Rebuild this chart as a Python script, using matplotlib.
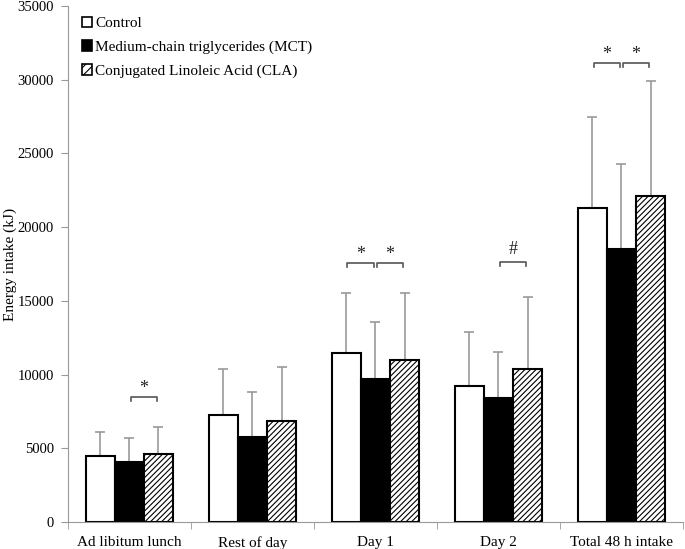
import numpy as np
import matplotlib
matplotlib.use('Agg')
import matplotlib.pyplot as plt
from matplotlib.patches import Patch

plt.rcParams['font.family'] = ['Liberation Serif', 'DejaVu Serif']
plt.rcParams['hatch.linewidth'] = 0.8

categories = ['Ad libitum lunch', 'Rest of day', 'Day 1', 'Day 2', 'Total 48 h intake']
series = ['Control', 'Medium-chain triglycerides (MCT)', 'Conjugated Linoleic Acid (CLA)']

control = [4450, 7250, 11500, 9250, 21300]
mct = [4050, 5780, 9680, 8450, 18520]
cla = [4600, 6850, 11000, 10400, 22150]

control_err = [1650, 3100, 4050, 3650, 6200]
mct_err = [1650, 3050, 3900, 3070, 5800]
cla_err = [1870, 3650, 4550, 4900, 7750]

# (category, left bar, right bar, bracket height, label)
brackets = [
    (0, 1, 2, 8500, '*'),
    (2, 0, 1, 17590, '*'),
    (2, 1, 2, 17590, '*'),
    (3, 1, 2, 17640, '#'),
    (4, 0, 1, 31120, '*'),
    (4, 1, 2, 31120, '*'),
]

fig = plt.figure(figsize=(6.85, 5.49), dpi=100)
ax = fig.add_axes([0.099, 0.049, 0.898, 0.940])

x = np.arange(len(categories))
w = 0.237
grey = '#999999'

ax.bar(x - w, control, w, color='white', edgecolor='black', linewidth=1.5, zorder=2)
ax.bar(x, mct, w, color='black', edgecolor='black', linewidth=1.5, zorder=2)
ax.bar(x + w, cla, w, color='white', edgecolor='black', linewidth=1.5, hatch='//////', zorder=2)

for off, vals, errs in [(-w, control, control_err), (0, mct, mct_err), (w, cla, cla_err)]:
    ax.errorbar(x + off, vals, yerr=[np.zeros(len(errs)), errs], fmt='none',
                ecolor=grey, elinewidth=1.2, capsize=3.5, capthick=1.2, zorder=1)

for cat, a, b, h, lab in brackets:
    xa = x[cat] + (a - 1) * w + 0.01
    xb = x[cat] + (b - 1) * w - 0.01
    ax.plot([xa, xa, xb, xb], [h - 280, h, h, h - 280], color='#555555', lw=1.2)
    gap = 270 if lab == '*' else 550
    ax.text((xa + xb) / 2, h + gap, lab, ha='center', va='baseline', fontsize=13, color='#222222')

ax.set_xlim(-0.5, len(categories) - 0.5)
ax.set_ylim(0, 35000)
ax.set_yticks(np.arange(0, 35001, 5000))
ax.set_xticks(x)
ax.set_xticklabels(categories, fontsize=11)
ax.set_xticks(np.arange(-0.5, len(categories)), minor=True)
ax.tick_params(axis='x', which='major', length=0, pad=10)
ax.tick_params(axis='x', which='minor', length=5, color=grey)
ax.tick_params(axis='y', labelsize=10.5, length=5, color=grey, pad=5)
ax.set_ylabel('Energy intake (kJ)', fontsize=11)
ax.yaxis.set_label_coords(-0.082, 0.5)

for s in ['top', 'right']:
    ax.spines[s].set_visible(False)
for s in ['left', 'bottom']:
    ax.spines[s].set_color(grey)

handles = [
    Patch(facecolor='white', edgecolor='black', linewidth=1.2),
    Patch(facecolor='black', edgecolor='black', linewidth=1.2),
    Patch(facecolor='white', edgecolor='black', linewidth=1.2, hatch='////'),
]
ax.legend(handles, series, loc='upper left', bbox_to_anchor=(0.005, 1.0), frameon=False,
          fontsize=11, handlelength=0.7, handleheight=0.7, handletextpad=0.2,
          labelspacing=0.65, borderaxespad=0.3)

fig.savefig('out.png', dpi=100)
